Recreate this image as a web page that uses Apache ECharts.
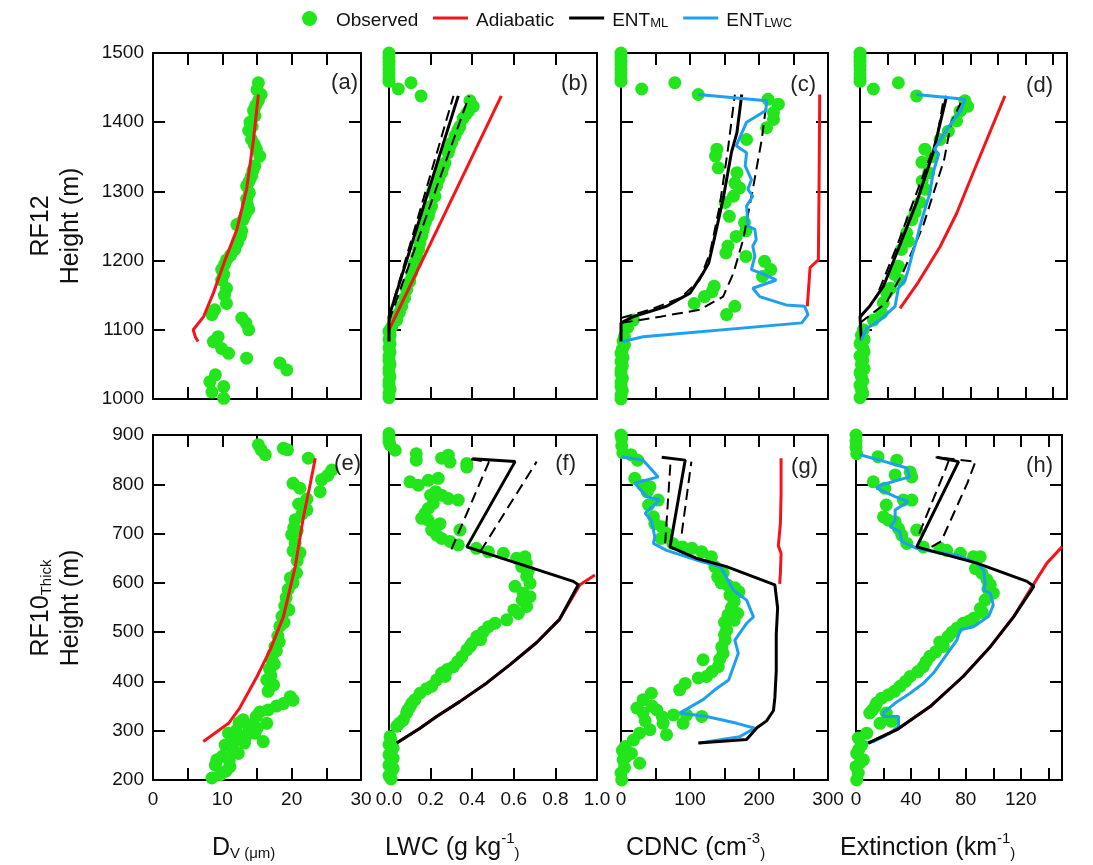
<!DOCTYPE html>
<html><head><meta charset="utf-8">
<script src="https://cdn.jsdelivr.net/npm/echarts@6/dist/echarts.min.js"></script>
<style>html,body{margin:0;padding:0;background:#fff}#c{width:1093px;height:865px}</style>
</head><body><div id="c"></div>
<script>
// ---------------- DATA ----------------
// Panel (a) RF12, Dv (um) vs height (m)
const obsA = [[15.2,1457],[15.0,1447],[15.6,1440],[15.2,1431],[14.8,1424],[14.5,1417],[14.7,1409],[14.0,1400],[14.3,1394],[13.8,1388],[14.2,1375],[14.6,1368],[14.9,1361],[15.4,1351],[14.7,1337],[14.4,1330],[14.2,1322],[13.9,1315],[13.5,1308],[13.9,1298],[13.5,1289],[13.6,1281],[13.8,1274],[13.3,1266],[13.0,1259],[12.1,1252],[12.8,1243],[12.6,1235],[12.2,1226],[11.8,1216],[11.2,1208],[10.6,1201],[10.3,1194],[9.9,1187],[10.2,1180],[9.9,1172],[10.6,1160],[10.3,1150],[10.6,1138],[8.9,1129],[8.5,1122],[12.8,1117],[13.4,1110],[13.8,1100],[9.4,1090],[8.7,1083],[9.9,1073],[10.9,1066],[13.5,1059],[18.3,1052],[19.3,1042],[9.0,1035],[8.2,1025],[10.2,1018],[8.5,1010],[10.2,1001]];
const adiA = [[15.2,1440],[14.5,1375],[13.5,1303],[12.1,1245],[10.4,1201],[8.7,1153],[7.3,1119],[5.8,1100],[6.1,1090],[6.5,1083]];
// Panel (b) RF12, LWC (g/kg)
const obsB = [[0,1500],[0,1494],[0,1488],[0,1482],[0,1476],[0,1470],[0,1464],[0,1459],[0.045,1448],[0.106,1457],[0.154,1438],[0.389,1431],[0.405,1423],[0.382,1416],[0.372,1412],[0.357,1406],[0.341,1394],[0.33,1388],[0.317,1380],[0.301,1370],[0.29,1362],[0.285,1356],[0.269,1341],[0.26,1334],[0.253,1327],[0.24,1318],[0.229,1308],[0.21,1300],[0.221,1293],[0.205,1279],[0.195,1272],[0.189,1264],[0.175,1255],[0.165,1245],[0.158,1236],[0.149,1226],[0.142,1216],[0.133,1206],[0.12,1195],[0.109,1182],[0.1,1170],[0.085,1158],[0.075,1146],[0.061,1134],[0.05,1125],[0.037,1114],[0.013,1104],[0,1098],[0.005,1092],[0,1086],[0.005,1080],[0,1074],[0.005,1068],[0,1062],[0,1056],[0.005,1050],[0,1044],[0,1038],[0.005,1032],[0,1026],[0,1020],[0.005,1014],[0,1008],[0,1002]];
const adiB = [[0,1100],[0.54,1438]];
const entB = [[0,1083],[0,1119],[0.333,1438]];
const entBlo = [[0,1119],[0.31,1438]];
const entBhi = [[0,1112],[0.385,1438]];
// Panel (c) RF12, CDNC (cm-3)
const obsC = [[0,1500],[0,1494],[0,1488],[0,1482],[0,1476],[0,1470],[0,1464],[0,1459],[30,1448],[78,1457],[112,1440],[213,1433],[228,1426],[221,1414],[221,1404],[211,1392],[182,1375],[139,1361],[137,1351],[141,1334],[168,1327],[165,1312],[172,1305],[163,1293],[151,1284],[157,1264],[179,1255],[181,1243],[167,1235],[155,1221],[152,1211],[181,1206],[208,1199],[217,1187],[205,1177],[135,1163],[132,1155],[121,1148],[106,1138],[165,1134],[153,1122],[18,1114],[10,1104],[5,1090],[3,1084],[5,1078],[2,1072],[0,1066],[3,1060],[0,1054],[2,1048],[0,1042],[0,1036],[2,1030],[0,1024],[0,1018],[2,1012],[0,1006],[0,1000]];
const adiC = [[288,1440],[287,1300],[286,1201],[274,1190],[270,1134]];
const entC = [[0,1083],[0,1110],[18,1119],[66,1134],[100,1153],[119,1182],[127,1196],[136,1235],[148,1289],[160,1356],[168,1385],[175,1440]];
const entClo = [[0,1117],[42,1129],[86,1146],[114,1172],[129,1211],[143,1279],[155,1361],[165,1440]];
const entChi = [[1,1110],[57,1119],[114,1129],[148,1148],[163,1182],[177,1230],[191,1303],[204,1375],[211,1429]];
const lwcC = [[112,1440],[211,1431],[210,1417],[182,1400],[167,1366],[182,1356],[180,1337],[189,1317],[184,1303],[191,1293],[182,1279],[184,1250],[194,1245],[196,1230],[191,1221],[194,1206],[189,1187],[203,1182],[225,1172],[191,1160],[201,1148],[239,1136],[266,1134],[271,1122],[262,1110],[32,1090],[3,1083]];
// Panel (d) RF12, Extinction (km-1)
const obsD = [[0,1500],[0,1494],[0,1488],[0,1482],[0,1476],[0,1470],[0,1464],[0,1459],[9.7,1448],[27.8,1457],[41,1438],[76,1431],[78,1423],[72.5,1416],[70,1402],[64,1387],[58,1375],[47,1361],[52,1350],[44.9,1342],[49.8,1327],[45,1315],[47.3,1303],[43.5,1284],[40,1270],[37.5,1259],[33.8,1240],[35,1228],[30,1216],[27.8,1192],[25,1180],[29,1172],[22,1160],[19.3,1153],[16.9,1139],[15.7,1124],[9.7,1114],[2.4,1100],[1,1092],[3,1086],[0,1080],[2,1074],[3,1068],[0,1062],[2,1056],[1,1050],[3,1044],[0,1038],[1,1032],[2,1026],[0,1020],[1,1014],[2,1008],[0,1002]];
const adiD = [[29,1131],[42.3,1169],[58,1220],[70,1268],[82,1327],[93,1380],[105,1438]];
const entD = [[1,1085],[0,1119],[7,1134],[17,1163],[26.6,1211],[41,1284],[53,1356],[62.8,1438]];
const entDlo = [[0,1117],[12,1148],[26.6,1220],[41,1298],[55.5,1375],[61,1438]];
const entDhi = [[0,1110],[19,1139],[31,1182],[45.7,1250],[61,1346],[66,1399],[73,1428]];
const lwcD = [[41,1440],[76,1433],[73.4,1418],[70,1409],[63,1390],[54,1361],[57,1354],[53,1327],[50.7,1298],[47,1274],[43.5,1250],[41,1230],[37.5,1206],[35,1187],[32.6,1172],[27.8,1160],[25.4,1134],[14.5,1114],[4.8,1102],[1,1085]];
// Panel (e) RF10 thick, Dv
const obsE = [[15.2,880],[16.2,860],[15.6,870],[18.8,873],[19.4,870],[22.4,853],[24.3,809],[25.2,818],[25.8,829],[24.1,785],[20.2,802],[21.2,792],[22.2,770],[22.2,748],[21.5,740],[20.5,728],[20.3,712],[20,698],[20.5,680],[21.2,661],[20.8,645],[20.7,620],[20.2,600],[19.5,587],[19.2,570],[19.0,553],[18.6,532],[18.3,512],[18.0,492],[17.6,471],[17.3,456],[17.1,444],[16.8,425],[16.4,403],[17.4,393],[16.6,380],[19.8,369],[20.2,362],[18.8,355],[17.8,350],[16.6,342],[15.4,338],[14.9,329],[13.0,322],[12.4,316],[16.4,315],[15.0,305],[14.7,295],[13.5,290],[12.6,281],[15.9,278],[10.9,295],[11.8,285],[10.4,271],[12.3,254],[11.5,262],[9.2,241],[10.0,248],[11.1,227],[9.7,211],[8.5,204],[10.5,218],[13.2,275],[12.0,300],[21.0,760],[20.8,705],[20.2,665],[19.8,610],[19.6,545],[18.9,520],[18.2,480],[17.8,462],[17.5,435],[17.0,412],[14.2,312],[13.8,300],[11.0,240],[9.0,230]];
const adiE = [[7.26,278],[10.9,315],[12.5,346],[15,410],[16.9,464],[18.8,531],[20.5,632],[21.7,734],[22.7,802],[23.4,853]];
// Panel (f) RF10 thick, LWC
const obsF = [[0,903],[0,895],[0,887],[0.005,880],[0.03,869],[0.131,862],[0.131,849],[0.285,859],[0.293,845],[0.253,853],[0.374,842],[0.374,835],[0.237,812],[0.189,808],[0.141,798],[0.101,805],[0.225,785],[0.2,778],[0.253,778],[0.285,771],[0.333,768],[0.213,761],[0.189,751],[0.173,741],[0.157,731],[0.189,727],[0.245,720],[0.205,707],[0.229,697],[0.253,690],[0.293,684],[0.333,677],[0.341,707],[0.42,670],[0.478,663],[0.55,660],[0.614,650],[0.654,653],[0.638,633],[0.662,613],[0.678,599],[0.606,593],[0.646,579],[0.678,572],[0.662,552],[0.622,538],[0.566,525],[0.51,518],[0.478,511],[0.454,501],[0.422,491],[0.39,471],[0.374,464],[0.35,450],[0.31,430],[0.28,424],[0.253,417],[0.229,403],[0.205,390],[0.149,376],[0.125,363],[0.101,349],[0.085,336],[0.069,322],[0.037,309],[0.005,288],[0.01,280],[0,272],[0.02,265],[0.01,258],[0,251],[0.02,244],[0.01,237],[0,230],[0.02,223],[0.01,216],[0,209],[0.01,202],[0.66,640],[0.67,625],[0.64,565],[0.6,545],[0.44,485],[0.4,478],[0.33,440],[0.27,410],[0.18,385],[0.11,356],[0.09,342],[0.05,315]];
const adiF = [[0.037,275],[0.149,305],[0.229,329],[0.34,359],[0.47,397],[0.582,434],[0.71,479],[0.82,526],[0.918,596],[0.99,616]];
const entF = [[0.037,275],[0.149,305],[0.229,329],[0.34,359],[0.47,397],[0.582,434],[0.71,479],[0.82,526],[0.91,596],[0.886,603],[0.374,673],[0.606,846],[0.40,852]];
const entFlo = [[0.30,668],[0.48,845],[0.38,852]];
const entFhi = [[0.44,664],[0.71,846]];
// Panel (g) RF10 thick, CDNC
const obsG = [[0,900],[1,893],[1,878],[2.6,864],[14.5,860],[24,849],[20,812],[32,798],[42,795],[38,785],[54,768],[40,758],[47,734],[49,720],[59,714],[66,700],[58,690],[75,680],[89,673],[103,670],[117,663],[131,653],[136,633],[140,612],[148,620],[155,595],[145,600],[171,582],[158,575],[164,562],[160,550],[169,538],[164,524],[150,520],[153,504],[151,484],[146,470],[148,457],[143,445],[141,430],[119,444],[132,420],[124,410],[112,407],[93,396],[85,383],[44,376],[32,363],[23,346],[32,336],[52,342],[76,332],[95,332],[117,329],[90,315],[61,315],[42,302],[27,295],[66,292],[18,281],[6,268],[2,260],[15,254],[8,248],[3,241],[27,234],[5,225],[0,214],[1,200],[45,350],[60,328],[35,320],[150,495],[155,535],[165,590]];
const adiG = [[230,598],[231,620],[232,660],[228,675],[231,720],[232,780],[232,853]];
const entG = [[112,275],[182,282],[197,306],[211,320],[221,341],[223,367],[225,421],[225,495],[227,549],[223,596],[153,633],[109,650],[71,673],[93,849],[59,855]];
const entGlo = [[64,680],[72,850]];
const entGhi = [[88,700],[102,846]];
const lwcG = [[1,856],[32,849],[54,815],[20,802],[37,775],[56,768],[35,741],[44,727],[49,693],[47,680],[66,666],[110,646],[144,633],[163,585],[182,565],[192,531],[182,518],[165,484],[170,457],[163,430],[156,403],[136,383],[119,363],[85,336],[124,329],[168,315],[194,305],[172,288],[114,275]];
// Panel (h) RF10 thick, Extinction
const obsH = [[0,900],[0,887],[0,875],[0.5,862],[16,856],[29.7,849],[39.4,825],[40.6,815],[28.5,819],[12.6,805],[21,792],[34.5,768],[40.6,768],[22,758],[20,734],[23.6,727],[28.5,724],[31,710],[33.3,697],[44.2,707],[37,680],[49,673],[61,670],[66,666],[76,660],[85.6,653],[90.5,653],[87,629],[91.8,619],[95.4,606],[97.8,596],[100,579],[94,565],[90.5,548],[85.6,528],[78,518],[73.5,508],[67,491],[63.5,471],[58,460],[53.8,451],[49,430],[45,420],[39.4,410],[32,390],[28,380],[23.6,373],[18.7,366],[13.9,349],[10,336],[22,336],[25.8,319],[17.5,315],[7.8,295],[1.7,285],[4.2,271],[2,262],[0.5,254],[5.4,241],[3,235],[0,227],[1.7,214],[0.5,200],[96,588],[92,540],[82,522],[70,500],[61,480],[51,440],[36,400],[15,356],[12,342]];
const adiH = [[9,275],[29.7,302],[54,349],[78,410],[98,471],[115,532],[129,596],[139,640],[150,673]];
const entH = [[9,275],[29.7,302],[54,349],[78,410],[98,471],[115,532],[129.5,593],[124.5,603],[88,640],[44.2,673],[74.7,846],[59,855]];
const entHlo = [[46,700],[65,829],[68,852]];
const entHhi = [[55,673],[62,684],[81,802],[87,846],[58,855]];
const lwcH = [[2.9,860],[21,846],[37,833],[39,815],[17.5,798],[15,792],[28.5,775],[38,765],[28.5,748],[28.5,727],[24.8,714],[32,704],[33.3,684],[44.2,670],[56.4,663],[73.4,656],[88,640],[93,626],[94,599],[93,585],[97.8,579],[100,555],[96.6,532],[85.6,511],[76,505],[73.5,484],[65,451],[56.4,417],[49,396],[39.4,376],[28.5,356],[20,336],[20,329],[31,329],[31,309],[24.8,295],[12.6,278],[7.8,275]];

// axis ranges / ticks
const xRanges = [[0,30,5,10],[0,1,0.2,0.2],[0,300,50,100],[0,150,20,40]];
const yRanges = [[1000,1500,100],[200,900,100]];
const panelLetters = ['(a)','(b)','(c)','(d)','(e)','(f)','(g)','(h)'];

// ---------------- LAYOUT ----------------
const FONT = 'Liberation Sans, Arial, Helvetica, sans-serif';
const GREEN = '#22e51c', RED = '#f5141a', BLUE = '#1f9ff0', BLACK = '#000';
const gridBoxes = [
  [153,53,208,346],[389,53,208,346],[621,53,207,346],[860,53,207,346],
  [153,435,208,345],[389,435,208,345],[621,435,207,345],[856,435,206,345]
];
const letterPos = [[358,83],[588,84],[816,85],[1053,86],[361,464],[576,464],[818,467],[1053,466]];

const grids=[], xAxes=[], yAxes=[];
gridBoxes.forEach((g,i)=>{
  grids.push({left:g[0],top:g[1],width:g[2],height:g[3],containLabel:false});
  const col=i%4,row=Math.floor(i/4);
  const xr=xRanges[col], yr=yRanges[row];
  const tick={show:true,inside:true,length:12,lineStyle:{color:BLACK,width:2}};
  const line={show:true,onZero:false,lineStyle:{color:BLACK,width:2}};
  const labStyle={color:'#111',fontSize:19,fontFamily:FONT};
  xAxes.push({type:'value',gridIndex:i,position:'bottom',min:xr[0],max:xr[1],interval:xr[2],
    axisLine:line,axisTick:tick,splitLine:{show:false},
    axisLabel:Object.assign({show:row===1,margin:10,formatter:v=>{
      const k=Math.round(v/xr[3]*1000)/1000; if(Math.abs(k-Math.round(k))>1e-6) return '';
      return col===1? v.toFixed(1): String(Math.round(v));}},labStyle)});
  xAxes.push({type:'value',gridIndex:i,position:'top',min:xr[0],max:xr[1],interval:xr[2],
    axisLine:line,axisTick:tick,splitLine:{show:false},axisLabel:{show:false}});
  yAxes.push({type:'value',gridIndex:i,position:'left',min:yr[0],max:yr[1],interval:yr[2],
    axisLine:line,axisTick:tick,splitLine:{show:false},
    axisLabel:Object.assign({show:col===0,margin:9,formatter:v=>String(Math.round(v))},labStyle)});
  yAxes.push({type:'value',gridIndex:i,position:'right',min:yr[0],max:yr[1],interval:yr[2],
    axisLine:line,axisTick:tick,splitLine:{show:false},axisLabel:{show:false}});
});

const series=[];
function obs(i,d){series.push({type:'scatter',name:'Observed',xAxisIndex:2*i,yAxisIndex:2*i,data:d,symbolSize:13,clip:false,itemStyle:{color:GREEN,opacity:1},z:2,silent:true});}
function ln(i,d,name,color,dashed,z){series.push({type:'line',name:name,xAxisIndex:2*i,yAxisIndex:2*i,data:d,showSymbol:false,symbol:'none',clip:false,
  itemStyle:{color:color},lineStyle:{color:color,width:dashed?2:3,type:dashed?[11,6]:'solid'},z:z,silent:true,animation:false});}

obs(0,obsA); ln(0,adiA,'Adiabatic',RED,false,3);
obs(1,obsB); ln(1,adiB,'Adiabatic',RED,false,3); ln(1,entBlo,'ENT_ML range',BLACK,true,4); ln(1,entBhi,'ENT_ML range',BLACK,true,4); ln(1,entB,'ENT_ML',BLACK,false,5);
obs(2,obsC); ln(2,adiC,'Adiabatic',RED,false,3); ln(2,entClo,'ENT_ML range',BLACK,true,4); ln(2,entChi,'ENT_ML range',BLACK,true,4); ln(2,entC,'ENT_ML',BLACK,false,5); ln(2,lwcC,'ENT_LWC',BLUE,false,6);
obs(3,obsD); ln(3,adiD,'Adiabatic',RED,false,3); ln(3,entDlo,'ENT_ML range',BLACK,true,4); ln(3,entDhi,'ENT_ML range',BLACK,true,4); ln(3,entD,'ENT_ML',BLACK,false,5); ln(3,lwcD,'ENT_LWC',BLUE,false,6);
obs(4,obsE); ln(4,adiE,'Adiabatic',RED,false,3);
obs(5,obsF); ln(5,adiF,'Adiabatic',RED,false,3); ln(5,entFlo,'ENT_ML range',BLACK,true,4); ln(5,entFhi,'ENT_ML range',BLACK,true,4); ln(5,entF,'ENT_ML',BLACK,false,5);
obs(6,obsG); ln(6,adiG,'Adiabatic',RED,false,3); ln(6,lwcG,'ENT_LWC',BLUE,false,4); ln(6,entGlo,'ENT_ML range',BLACK,true,5); ln(6,entGhi,'ENT_ML range',BLACK,true,5); ln(6,entG,'ENT_ML',BLACK,false,6);
obs(7,obsH); ln(7,adiH,'Adiabatic',RED,false,3); ln(7,lwcH,'ENT_LWC',BLUE,false,4); ln(7,entHlo,'ENT_ML range',BLACK,true,5); ln(7,entHhi,'ENT_ML range',BLACK,true,5); ln(7,entH,'ENT_ML',BLACK,false,6);

const legRich={n:{fontSize:19,fontFamily:FONT,color:'#111',lineHeight:24,verticalAlign:'bottom'},
               s:{fontSize:13,fontFamily:FONT,color:'#111',lineHeight:8,verticalAlign:'bottom'}};
const legFmt=name=> name==='ENT_ML'?'{n|ENT}{s|ML}': name==='ENT_LWC'?'{n|ENT}{s|LWC}':'{n|'+name+'}';

const graphics=[];
panelLetters.forEach((t,i)=>graphics.push({type:'text',x:letterPos[i][0],y:letterPos[i][1],silent:true,z:20,
  style:{text:t,fontSize:22,fontFamily:FONT,fill:'#222',align:'right',verticalAlign:'middle'}}));
const tRich={n:{fontSize:25,fontFamily:FONT,fill:'#111',lineHeight:30,verticalAlign:'bottom'},
  sup:{fontSize:15,fontFamily:FONT,fill:'#111',lineHeight:10,verticalAlign:'top'},
  p:{fontSize:15,fontFamily:FONT,fill:'#111',lineHeight:24,verticalAlign:'bottom'},
  sub:{fontSize:15,fontFamily:FONT,fill:'#111',lineHeight:12,verticalAlign:'bottom'}};
function title(x,y,text){graphics.push({type:'text',x:x,y:y,silent:true,style:{text:text,rich:tRich,align:'left',verticalAlign:'middle'}});}
title(212,846,'{n|D}{sub|V (μm)}');
title(385,846,'{n|LWC (g kg}{sup|-1}{p|)}');
title(626,846,'{n|CDNC (cm}{sup|-3}{p|)}');
title(840,846,'{n|Extinction (km}{sup|-1}{p|)}');
function ytitle(x,y,text){graphics.push({type:'text',x:x,y:y,rotation:Math.PI/2,silent:true,style:{text:text,rich:tRich,align:'center',verticalAlign:'middle'}});}
ytitle(54,226,'{n|RF12}\n{n|Height (m)}');
ytitle(54,608,'{n|RF10}{sub|Thick}\n{n|Height (m)}');

const chart=echarts.init(document.getElementById('c'),null,{renderer:'canvas'});
chart.setOption({
  animation:false,backgroundColor:'#fff',
  grid:grids,xAxis:xAxes,yAxis:yAxes,series:series,graphic:graphics,
  legend:[
    {data:['Observed'],left:297,top:6,icon:'circle',itemWidth:15,itemHeight:15,selectedMode:false,
     formatter:legFmt,textStyle:{rich:legRich,padding:[0,0,0,14]}},
    {data:['Adiabatic','ENT_ML','ENT_LWC'],left:428,top:6,icon:'rect',itemWidth:35,itemHeight:3,itemGap:15,selectedMode:false,
     formatter:legFmt,textStyle:{rich:legRich,padding:[0,0,0,3]}}
  ]
});
</script></body></html>
